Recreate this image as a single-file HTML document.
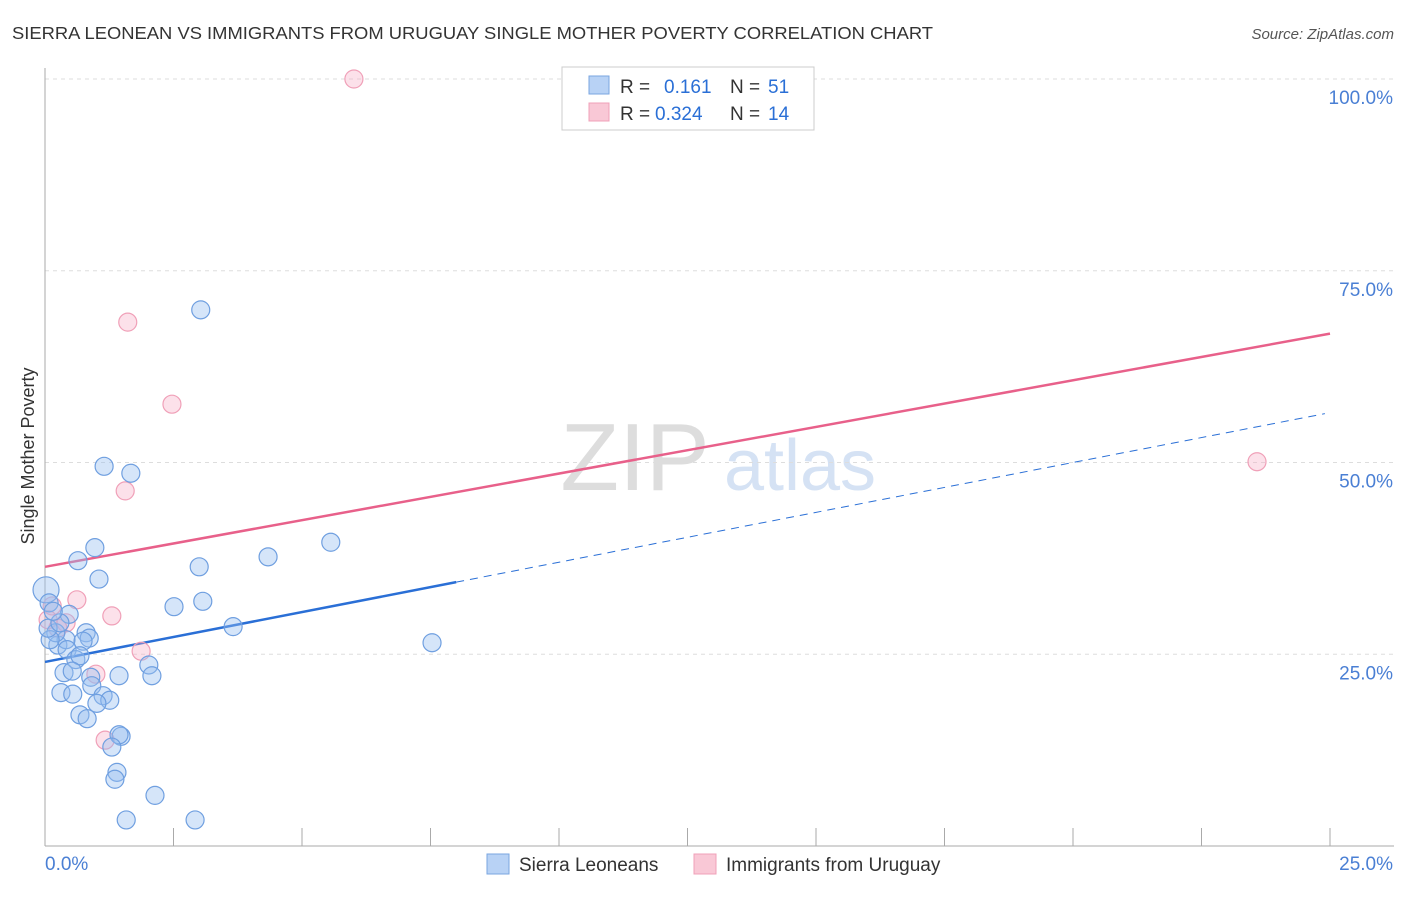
<!DOCTYPE html>
<html><head><meta charset="utf-8"><style>
body{margin:0;background:#fff;font-family:"Liberation Sans",sans-serif}
svg text{font-family:"Liberation Sans",sans-serif}
</style></head><body>
<svg id="chart" width="1406" height="892">
<text x="12" y="39" font-size="17.5" fill="#333" textLength="921" lengthAdjust="spacingAndGlyphs">SIERRA LEONEAN VS IMMIGRANTS FROM URUGUAY SINGLE MOTHER POVERTY CORRELATION CHART</text>
<text x="1394" y="39" font-size="15" fill="#555" font-style="italic" text-anchor="end">Source: ZipAtlas.com</text>
<text x="635" y="490" font-size="96" fill="#ddd" font-family="Liberation Serif" text-anchor="middle">ZIP</text>
<text x="800" y="490" font-size="72" fill="#d5e2f4" text-anchor="middle">atlas</text>
<text transform="translate(34,456) rotate(-90)" font-size="18" fill="#333" text-anchor="middle">Single Mother Poverty</text>
<g id="grid"></g><g id="axes"></g><g id="lines"></g><g id="points"></g>
<g>
<rect x="562" y="67" width="252" height="63" fill="#fff" stroke="#ccc"/>
<rect x="589" y="76" width="20" height="18" fill="#b8d2f5" stroke="#7aa6e0"/>
<text x="620" y="93" font-size="19" fill="#333">R = </text><text x="664" y="93" font-size="19" fill="#2a6fd6">0.161</text>
<text x="730" y="93" font-size="19" fill="#333">N = </text><text x="768" y="93" font-size="19" fill="#2a6fd6">51</text>
<rect x="589" y="103" width="20" height="18" fill="#f9c8d6" stroke="#f0a0b8"/>
<text x="620" y="120" font-size="19" fill="#333">R = </text><text x="655" y="120" font-size="19" fill="#2a6fd6">0.324</text>
<text x="730" y="120" font-size="19" fill="#333">N = </text><text x="768" y="120" font-size="19" fill="#2a6fd6">14</text>
</g>
<g>
<rect x="487" y="854" width="22" height="20" fill="#b8d2f5" stroke="#7aa6e0"/>
<text x="519" y="871" font-size="19" fill="#333">Sierra Leoneans</text>
<rect x="694" y="854" width="22" height="20" fill="#f9c8d6" stroke="#f0a0b8"/>
<text x="726" y="871" font-size="19" fill="#333">Immigrants from Uruguay</text>
</g>
</svg>
<script>
const blueX=[3.03,1.15,1.67,0.97,0.64,4.34,5.56,3.0,1.05,0.02,2.51,3.07,0.47,0.08,3.66,7.53,0.80,0.86,0.25,0.41,0.74,0.21,0.43,0.60,0.68,2.02,2.08,1.44,0.37,0.53,0.89,0.91,0.31,0.54,1.13,1.26,1.01,0.68,0.82,1.48,1.44,1.30,1.40,1.36,2.14,1.58,2.92,0.10,0.06,0.29,0.16];
const blueY=[69.9,49.5,48.6,38.9,37.2,37.7,39.6,36.4,34.8,33.4,31.2,31.9,30.2,31.7,28.6,26.5,27.8,27.1,26.2,26.9,26.7,27.8,25.6,24.3,24.8,23.6,22.2,22.2,22.6,22.8,22.0,20.9,20.0,19.8,19.6,19.0,18.6,17.1,16.6,14.3,14.5,12.9,9.6,8.7,6.6,3.4,3.4,26.9,28.4,29.1,30.6];
const pinkX=[6.01,1.61,2.47,1.56,23.58,0.62,1.30,0.14,0.06,0.41,0.25,1.87,0.99,1.17];
const pinkY=[100,68.3,57.6,46.3,50.1,32.1,30.0,31.3,29.5,29.1,28.4,25.4,22.4,13.8];
const blueTrend=[24.0,56.5]; const blueSolidEnd=8.0;
const pinkTrend=[36.4,66.8];
const yTicks=[25,50,75,100];
const xTickLabels=["0.0%","25.0%"];
const NS="http://www.w3.org/2000/svg";
const X=v=>45+v/25*1285, Y=v=>846-v/100*767;
function mk(tag,attrs,parent){const e=document.createElementNS(NS,tag);for(const k in attrs)e.setAttribute(k,attrs[k]);document.getElementById(parent).appendChild(e);return e;}
yTicks.forEach(t=>{
 const g=mk('line',{x1:45,x2:1394,y1:Y(t),y2:Y(t),stroke:'#ddd','stroke-dasharray':'4,4'},'grid');
 
 
 const l=mk('text',{x:1393,y:Y(t)+25,'font-size':19,fill:'#4a7fd4','text-anchor':'end'},'grid');
 l.textContent=t.toFixed(1)+'%';
 
 
});
const ax=mk('line',{x1:45,x2:45,y1:68,y2:846,stroke:'#aaa'},'axes');


const bx=mk('line',{x1:45,x2:1394,y1:846,y2:846,stroke:'#aaa'},'axes');


for(let i=0;i<=10;i++){const t=mk('line',{x1:X(i*2.5),x2:X(i*2.5),y1:828,y2:846,stroke:'#aaa'},'axes');
 
 }
[[0,'start',45],[25,'end',1393]].forEach((d,i)=>{const l=mk('text',{x:d[2],y:870,'font-size':19,fill:'#4a7fd4','text-anchor':d[1]},'axes');l.textContent=xTickLabels[i];
 
 });
const by=v=>blueTrend[0]+(blueTrend[1]-blueTrend[0])*v/25;
const py=v=>pinkTrend[0]+(pinkTrend[1]-pinkTrend[0])*v/25;
let e=mk('line',{x1:X(blueSolidEnd),y1:Y(by(blueSolidEnd)),x2:X(24.9),y2:Y(by(24.9)),stroke:'#2a6fd6','stroke-width':1,'stroke-dasharray':'8,6'},'lines');


e=mk('line',{x1:X(0),y1:Y(by(0)),x2:X(blueSolidEnd),y2:Y(by(blueSolidEnd)),stroke:'#2a6fd6','stroke-width':2.5},'lines');


e=mk('line',{x1:X(0),y1:Y(py(0)),x2:X(25),y2:Y(py(25)),stroke:'#e8608a','stroke-width':2.5},'lines');


pinkX.forEach((v,i)=>{const c=mk('circle',{cx:X(v),cy:Y(pinkY[i]),r:9,fill:'rgba(246,170,195,0.35)',stroke:'#f0a0b8','stroke-width':1.2},'points');
 
 });
blueX.forEach((v,i)=>{const c=mk('circle',{cx:X(v),cy:Y(blueY[i]),r:i==9?13:9,fill:'rgba(150,190,240,0.4)',stroke:'#6f9fe0','stroke-width':1.2},'points');
 
 });
</script>
</body></html>
